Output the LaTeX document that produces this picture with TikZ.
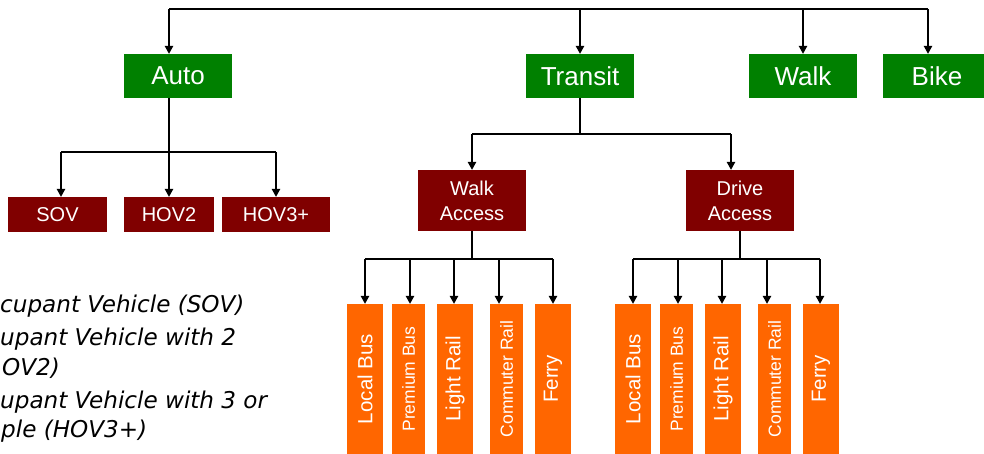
\documentclass[tikz,border=0pt]{standalone}
\usepackage{fontspec}
\setmainfont{Liberation Sans}
\newfontfamily\notefont{DejaVu Sans}
\usetikzlibrary{arrows.meta}
\definecolor{grn}{RGB}{0,128,0}
\definecolor{mrn}{RGB}{128,0,0}
\definecolor{org}{RGB}{255,102,0}
\begin{document}
\begin{tikzpicture}[x=1pt,y=-1pt,
 conn/.style={line width=1.3pt, black},
 arr/.style={conn, -{Triangle[length=8pt,width=8.5pt]}},
 gbox/.style={fill=grn, text=white, inner sep=0pt, minimum width=108pt, minimum height=44pt, font=\fontsize{26}{30}\selectfont},
 mbox/.style={fill=mrn, text=white, inner sep=0pt, minimum height=35pt, font=\fontsize{20}{24}\selectfont},
 abox/.style={fill=mrn, text=white, inner sep=0pt, minimum width=108pt, minimum height=61pt, align=center, font=\fontsize{20}{25}\selectfont},
 obox/.style={fill=org, text=white, inner sep=0pt, rotate=90, minimum width=150pt, minimum height=36pt, font=\fontsize{20.5}{24}\selectfont},
 osmall/.style={obox, minimum height=33pt, font=\fontsize{17.5}{21}\selectfont},
 note/.style={anchor=base west, inner sep=0pt, font=\notefont\itshape\fontsize{23.1}{28}\selectfont}
]
\clip (0,0) rectangle (984,453);
\fill[white] (0,0) rectangle (984,453);

% top level
\node[gbox] (auto) at (178,76) {Auto};
\node[gbox] (transit) at (580,76) {Transit};
\node[gbox] (walk) at (803,76) {Walk};
\node[gbox] (bike) at (937,76) {Bike};

% auto children
\node[mbox, minimum width=99pt] (sov) at (57.5,214.5) {SOV};
\node[mbox, minimum width=90pt] (hov2) at (169,214.5) {HOV2};
\node[mbox, minimum width=108pt] (hov3) at (276,214.5) {HOV3+};

% transit children
\node[abox] (wacc) at (472,200.5) {Walk\\Access};
\node[abox] (dacc) at (740,200.5) {Drive\\Access};

% walk access modes
\node[obox] (w1) at (365,379) {Local Bus};
\node[osmall] (w2) at (408.5,379) {Premium Bus};
\node[obox] (w3) at (455,379) {Light Rail};
\node[osmall] (w4) at (506.5,379) {Commuter Rail};
\node[obox] (w5) at (553,379) {Ferry};

% drive access modes
\node[obox] (d1) at (633,379) {Local Bus};
\node[osmall] (d2) at (676.5,379) {Premium Bus};
\node[obox] (d3) at (723,379) {Light Rail};
\node[osmall] (d4) at (774.5,379) {Commuter Rail};
\node[obox] (d5) at (821,379) {Ferry};

% top connectors
\coordinate (tl) at (169,9);
\coordinate (tr) at (928,9);
\draw[conn] (tl) -- (tr);
\draw[arr] (tl) -- (tl |- auto.north);
\draw[arr] (transit.north |- tl) -- (transit.north);
\draw[arr] (walk.north |- tl) -- (walk.north);
\draw[arr] (tr) -- (tr |- bike.north);

% auto connectors
\coordinate (aj) at (169,152);
\coordinate (aL) at (61,152);
\coordinate (aR) at (276,152);
\draw[conn] (aj |- auto.south) -- (aj);
\draw[conn] (aL) -- (aR);
\draw[arr] (aL) -- (aL |- sov.north);
\draw[arr] (aj) -- (hov2.north);
\draw[arr] (aR) -- (hov3.north);

% transit connectors
\coordinate (tj) at (580,134);
\coordinate (tL) at (472,134);
\coordinate (tR) at (731,134);
\draw[conn] (transit.south) -- (tj);
\draw[conn] (tL) -- (tR);
\draw[arr] (tL) -- (wacc.north);
\draw[arr] (tR) -- (tR |- dacc.north);

% walk access connectors
\coordinate (wj) at (472,259);
\coordinate (wL) at (365,259);
\coordinate (wR) at (553,259);
\coordinate (w2t) at (410,259);
\coordinate (w3t) at (454,259);
\coordinate (w4t) at (499,259);
\draw[conn] (wacc.south) -- (wj);
\draw[conn] (wL) -- (wR);
\draw[arr] (wL) -- (w1.east);
\draw[arr] (w2t) -- (w2t |- w2.east);
\draw[arr] (w3t) -- (w3t |- w3.east);
\draw[arr] (w4t) -- (w4t |- w4.east);
\draw[arr] (wR) -- (w5.east);

% drive access connectors
\coordinate (dj) at (740,259);
\coordinate (dL) at (633,259);
\coordinate (dR) at (820,259);
\coordinate (d2t) at (678,259);
\coordinate (d3t) at (722,259);
\coordinate (d4t) at (767,259);
\draw[conn] (dacc.south) -- (dj);
\draw[conn] (dL) -- (dR);
\draw[arr] (dL) -- (d1.east);
\draw[arr] (d2t) -- (d2t |- d2.east);
\draw[arr] (d3t) -- (d3t |- d3.east);
\draw[arr] (d4t) -- (d4t |- d4.east);
\draw[arr] (dR) -- (dR |- d5.east);

% notes
\node[note] (n1) at (0,312) {cupant Vehicle (SOV)};
\node[note] (n2) at (0,345) {upant Vehicle with 2};
\node[note] (n3) at (2,375) {OV2)};
\node[note] (n4) at (0,408) {upant Vehicle with 3 or};
\node[note] (n5) at (1,437) {ple (HOV3+)};
\end{tikzpicture}
\end{document}
